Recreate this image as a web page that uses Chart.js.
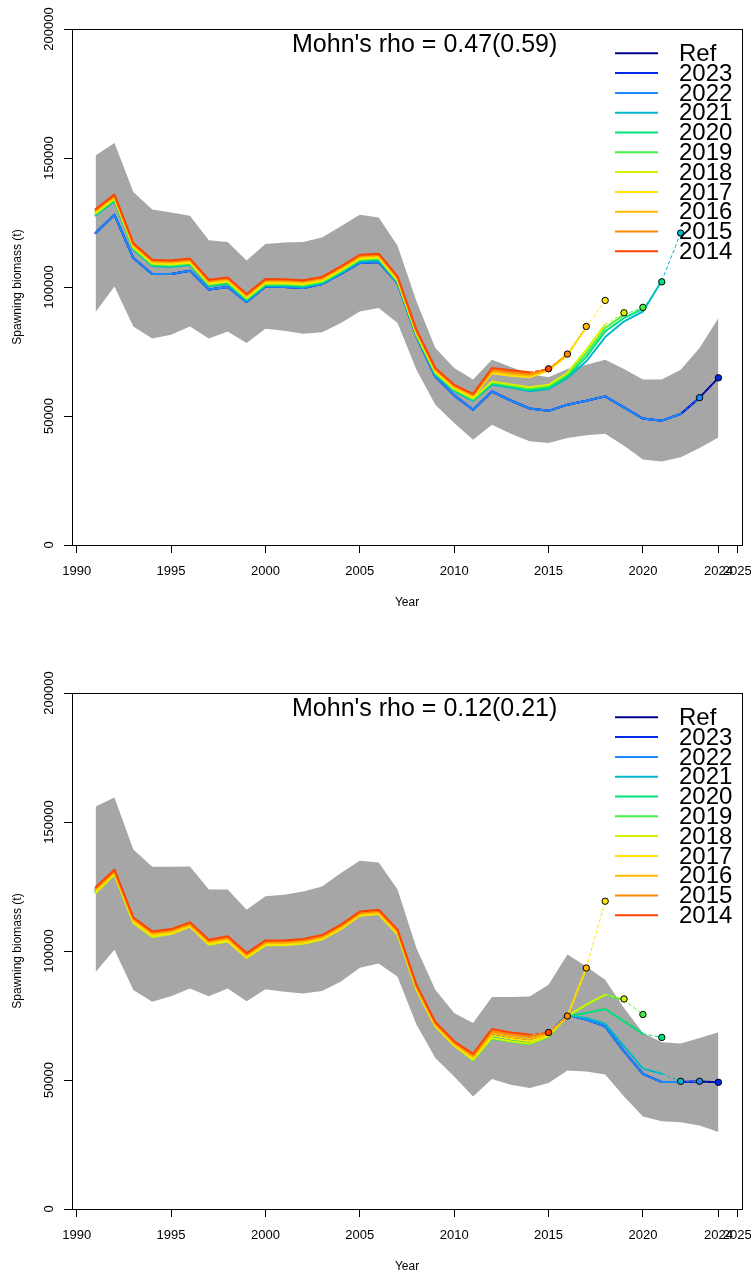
<!DOCTYPE html>
<html lang="en">
<head>
<meta charset="UTF-8">
<title>Retrospective spawning biomass</title>
<style>
    body {
        margin: 0;
        background: #ffffff;
    }
    .panel {
        position: absolute;
        left: 0;
        width: 751px;
    }
    #panelTop { top: 0; height: 664px; }
    #panelBottom { top: 664px; height: 611px; }
</style>
</head>
<body>
<div class="panel" id="panelTop"><canvas id="chartTop" width="751" height="664"></canvas></div>
<div class="panel" id="panelBottom"><canvas id="chartBottom" width="751" height="611"></canvas></div>
<script src="https://cdn.jsdelivr.net/npm/chart.js"></script>
<script>
// ---- data ----
const years = [1991, 1992, 1993, 1994, 1995, 1996, 1997, 1998, 1999, 2000, 2001, 2002,
    2003, 2004, 2005, 2006, 2007, 2008, 2009, 2010, 2011, 2012, 2013, 2014,
    2015, 2016, 2017, 2018, 2019, 2020, 2021, 2022, 2023, 2024];
const xTicks = [1990, 1995, 2000, 2005, 2010, 2015, 2020, 2024, 2025];
const yTicks = [0, 50000, 100000, 150000, 200000];
const legendLabels = ["Ref", "2023", "2022", "2021", "2020", "2019", "2018", "2017", "2016", "2015", "2014"];
const peelYears = [2023, 2022, 2021, 2020, 2019, 2018, 2017, 2016, 2015, 2014];
const lineColors = ["#00008B", "#0028E6", "#1E88FF", "#00B8C8", "#00E07A", "#44F044", "#D8F000", "#FFE400", "#FFBA00", "#FF8A00", "#FF4400"];

// top panel
const topUpper = [151000, 155800, 136800, 130000, 128900, 127600, 118100, 117400, 110300, 116700, 117200, 117400,
    119200, 123500, 128000, 126900, 116000, 94500, 76400, 68600, 64100, 71800, 69000, 66300,
    65000, 68200, 69900, 71800, 68200, 64100, 64100, 67900, 76400, 88000];
const topLower = [90300, 100200, 84700, 80000, 81500, 84700, 80000, 82800, 78300, 83800, 83000, 81900,
    82500, 86000, 90500, 91900, 86000, 67900, 54400, 47300, 40800, 46600, 43100, 40200,
    39500, 41500, 42500, 43100, 38500, 33100, 32400, 34000, 37600, 41700];
const topRef = [120900, 128000, 111200, 105000, 105000, 106300, 99000, 100000, 94200, 100200, 100000, 99600,
    101200, 105100, 109300, 109700, 101500, 80900, 65300, 58000, 52400, 59500, 56000, 52900,
    52000, 54400, 55900, 57600, 53300, 49000, 48200, 50800, 57100, 64800];
const top2023 = [120900, 128000, 111200, 105000, 105000, 106300, 99000, 100000, 94200, 100200, 100000, 99600,
    101200, 105100, 109300, 109700, 101500, 80900, 65300, 58000, 52400, 59500, 56000, 52900,
    52000, 54400, 55900, 57600, 53300, 49000, 48200, 50800, 57100];
const top2022 = [120900, 128000, 111200, 105000, 105000, 106300, 99000, 100000, 94200, 100200, 100000, 99600,
    101200, 105100, 109300, 109700, 101500, 80900, 65300, 58000, 52400, 59500, 56000, 52900,
    52000, 54400, 55900, 57600, 53300, 49000, 48200, 50800];
const top2021 = [127700, 133300, 114500, 108100, 107800, 108500, 100300, 101200, 94800, 100600, 100500, 100100,
    101400, 105500, 110000, 110400, 101600, 80900, 66100, 59600, 55900, 62100, 61000, 59600,
    60500, 64700, 71200, 80600, 86700, 90500, 102400];
const top2020 = [128000, 133600, 114800, 108400, 108100, 108800, 100600, 101500, 95100, 100900, 100800, 100400,
    101700, 105800, 110300, 110700, 101900, 81200, 66400, 59900, 56200, 62600, 61400, 60200,
    61000, 65400, 72900, 82800, 88000, 91500];
const top2019 = [128300, 133900, 115100, 108700, 108400, 109100, 100900, 101800, 95400, 101200, 101100, 100700,
    102000, 106100, 110600, 111000, 102200, 81500, 66700, 60200, 56500, 63000, 61800, 60700,
    61600, 66100, 74400, 84100, 89300];
const top2018 = [128600, 134200, 115400, 109000, 108700, 109400, 101200, 102100, 95700, 101500, 101400, 101000,
    102300, 106400, 110900, 111300, 102500, 81800, 67000, 60500, 56800, 63400, 62200, 61100,
    62100, 66700, 75700, 85400];
const top2017 = [129000, 134600, 115800, 109400, 109100, 109800, 101600, 102500, 96100, 101900, 101800, 101400,
    102700, 106800, 111300, 111700, 102900, 82200, 67400, 60900, 57400, 66600, 65600, 65000,
    67600, 73600, 84500];
const top2016 = [129400, 135000, 116200, 109800, 109500, 110200, 102000, 102900, 96500, 102300, 102200, 101800,
    103100, 107200, 111700, 112100, 103300, 82600, 67800, 61300, 57800, 67200, 66300, 65600,
    68000, 74000];
const top2015 = [129800, 135400, 116600, 110200, 109900, 110600, 102400, 103300, 96900, 102700, 102600, 102200,
    103500, 107600, 112100, 112500, 103700, 83000, 68200, 61700, 58200, 67800, 67000, 66300,
    68300];
const top2014 = [130200, 135800, 117000, 110600, 110300, 111000, 102800, 103700, 97300, 103100, 103000, 102600,
    103900, 108000, 112500, 112900, 104100, 83400, 68600, 62100, 58600, 68600, 67700, 67000];
// one-year-ahead points of each peel (2023 ... 2014)
const topAhead = [64800, 57100, 120900, 102000, 92100, 90000, 94800, 84700, 74000, 68300];

// bottom panel
const botUpper = [156000, 159500, 139300, 132700, 132700, 132800, 123800, 123800, 116000, 121200, 121800, 123100,
    125000, 130200, 135000, 134300, 123800, 101200, 85000, 76000, 72100, 82200, 82200, 82400,
    86900, 98600, 94000, 88900, 77900, 68200, 64600, 64100, 66300, 68500];
const botLower = [91900, 100500, 84900, 80300, 82500, 85500, 82500, 85500, 80500, 85200, 84200, 83500,
    84500, 88200, 93500, 95200, 90000, 71500, 58500, 51400, 43600, 50400, 48200, 46900,
    48800, 53700, 53300, 52100, 43600, 35900, 34000, 33600, 32400, 29800];
const botRef = [123600, 130500, 112000, 106500, 107600, 110300, 103400, 104700, 98200, 103100, 103100, 103700,
    105300, 109300, 114500, 115100, 107300, 86000, 71700, 64100, 58800, 67500, 66000, 65000,
    67500, 75300, 73400, 70800, 61100, 52400, 49200, 49200, 49400, 49100];
const bot2023 = [123600, 130500, 112000, 106500, 107600, 110300, 103400, 104700, 98200, 103100, 103100, 103700,
    105300, 109300, 114500, 115100, 107300, 86000, 71700, 64100, 58800, 67500, 66000, 65000,
    67500, 75300, 73400, 70800, 61100, 52400, 49200, 49200, 49400];
const bot2022 = [123500, 130300, 111800, 106300, 107400, 110300, 103200, 104500, 98000, 103000, 103000, 103600,
    105200, 109200, 114400, 115000, 107100, 85800, 71600, 64000, 58500, 67100, 65700, 64700,
    67300, 75300, 73400, 70800, 61100, 52400, 49200, 49200];
const bot2021 = [123100, 130000, 111500, 106000, 107200, 110100, 103000, 104300, 97900, 102800, 102800, 103400,
    105000, 109100, 114300, 114900, 106900, 85600, 71400, 63900, 58200, 66700, 65400, 64400,
    67000, 75000, 74000, 71800, 63000, 54400, 52400];
const bot2020 = [122900, 129800, 111300, 105800, 107000, 109900, 102800, 104100, 97700, 102600, 102600, 103200,
    104800, 108900, 114100, 114700, 106700, 85400, 71200, 63700, 57800, 66000, 64900, 64000,
    66600, 74800, 76000, 77500, 72700, 67900];
const bot2019 = [122700, 129700, 111100, 105600, 106800, 109700, 102600, 103900, 97500, 102400, 102400, 103000,
    104600, 108700, 113900, 114500, 106500, 85200, 71000, 63500, 57600, 66100, 64800, 63900,
    66700, 74800, 79000, 83000, 81000];
const bot2018 = [122500, 129600, 110900, 105400, 106600, 109500, 102400, 103700, 97300, 102200, 102200, 102800,
    104400, 108500, 113700, 114300, 106300, 85000, 70800, 63300, 57800, 66300, 65000, 64100,
    66900, 74800, 79200, 83100];
const bot2017 = [123200, 130000, 111500, 106100, 107000, 109600, 102900, 104200, 97700, 102600, 102600, 103200,
    104700, 108700, 113800, 114500, 106800, 85400, 71000, 63500, 58300, 67300, 66000, 65000,
    67200, 74800, 93400];
const bot2016 = [123700, 130500, 112000, 106600, 107500, 110100, 103400, 104700, 98200, 103100, 103100, 103700,
    105200, 109200, 114300, 115000, 107300, 85900, 71500, 64000, 58900, 68100, 66800, 65900,
    67700, 74800];
const bot2015 = [124200, 131000, 112500, 107100, 108000, 110600, 103900, 105200, 98700, 103600, 103600, 104200,
    105700, 109700, 114800, 115500, 107800, 86400, 72000, 64500, 59500, 68900, 67600, 66800,
    68400];
const bot2014 = [124700, 131500, 113000, 107600, 108500, 111100, 104400, 105700, 99200, 104100, 104100, 104700,
    106200, 110200, 115300, 116000, 108300, 86900, 72500, 65000, 60100, 69800, 68400, 67600];
const botAhead = [49100, 49500, 49500, 66500, 75400, 81400, 119300, 93400, 74800, 68400];

const BAND = "#A6A6A6";
const FONT = '"Liberation Sans", Arial, Helvetica, sans-serif';

function xy(vals) {
    return vals.map((v, i) => ({ x: years[i], y: v }));
}

function buildDatasets(upper, lower, ref, peels, ahead) {
    const ds = [];
    ds.push({ data: xy(upper), fill: '+1', backgroundColor: BAND, borderWidth: 0, pointRadius: 0, order: 100 });
    ds.push({ data: xy(lower), fill: false, borderWidth: 0, pointRadius: 0, order: 101 });
    ds.push({ data: xy(ref), borderColor: lineColors[0], borderWidth: 2, pointRadius: 0, order: 50 });
    peels.forEach((vals, i) => {
        const col = lineColors[i + 1];
        const last = vals.length - 1;
        ds.push({ data: xy(vals), borderColor: col, borderWidth: 2, pointRadius: 0, order: 49 - i });
        ds.push({
            data: [{ x: years[last], y: vals[last] }, { x: peelYears[i] + 1, y: ahead[i] }],
            borderColor: col, borderWidth: 1, borderDash: [3, 3],
            pointRadius: [0, 3.2], pointBackgroundColor: col, pointBorderColor: "#000000",
            pointBorderWidth: 1, order: 20 - i
        });
    });
    ds.forEach(d => {
        d.borderJoinStyle = 'round';
        d.borderCapStyle = 'round';
        d.tension = 0;
    });
    return ds;
}

const decorations = {
    id: 'decorations',
    afterDraw(chart, args, opts) {
        const { ctx, chartArea: a, scales: { x, y } } = chart;
        ctx.save();
        ctx.strokeStyle = "#000000";
        ctx.lineWidth = 1;
        ctx.strokeRect(a.left + 0.5, a.top + 0.5, a.right - a.left, a.bottom - a.top);

        ctx.fillStyle = "#000000";
        ctx.font = "13px " + FONT;
        ctx.textAlign = "center";
        ctx.textBaseline = "alphabetic";
        yTicks.forEach(v => {
            ctx.save();
            ctx.translate(a.left - 19, y.getPixelForValue(v));
            ctx.rotate(-Math.PI / 2);
            ctx.fillText(String(v), 0, 0);
            ctx.restore();
        });
        xTicks.forEach(v => {
            ctx.fillText(String(v), x.getPixelForValue(v), a.bottom + 30);
        });

        ctx.font = "12px " + FONT;
        ctx.fillText("Year", (a.left + a.right) / 2, a.bottom + 61);
        ctx.save();
        ctx.translate(21, (a.top + a.bottom) / 2);
        ctx.rotate(-Math.PI / 2);
        ctx.fillText("Spawning biomass (t)", 0, 0);
        ctx.restore();

        ctx.font = "25px " + FONT;
        ctx.textAlign = "left";
        ctx.fillText(opts.title, 292, a.top + 23);

        // legend
        ctx.font = "24px " + FONT;
        ctx.textBaseline = "middle";
        legendLabels.forEach((lab, i) => {
            const ly = a.top + 24.3 + i * 19.8;
            ctx.strokeStyle = lineColors[i];
            ctx.lineWidth = 2;
            ctx.beginPath();
            ctx.moveTo(615, ly);
            ctx.lineTo(658, ly);
            ctx.stroke();
            ctx.fillText(lab, 679, ly + 1);
        });
        ctx.restore();
    }
};

function makeChart(id, height, datasets, title) {
    return new Chart(document.getElementById(id), {
        type: 'line',
        data: { datasets: datasets },
        options: {
            responsive: false,
            animation: false,
            devicePixelRatio: 1,
            layout: { autoPadding: false, padding: { left: 72, right: 9, top: 29, bottom: height - 545 } },
            scales: {
                x: {
                    type: 'linear', min: 1989.75, max: 2025.25,
                    afterBuildTicks: s => { s.ticks = xTicks.map(v => ({ value: v })); },
                    afterFit: s => { s.height = 0; },
                    ticks: { display: false },
                    border: { display: false },
                    grid: { drawOnChartArea: false, drawTicks: true, tickLength: 8, color: "#000000", lineWidth: 1 }
                },
                y: {
                    type: 'linear', min: 0, max: 200000,
                    afterBuildTicks: s => { s.ticks = yTicks.map(v => ({ value: v })); },
                    afterFit: s => { s.width = 0; },
                    ticks: { display: false },
                    border: { display: false },
                    grid: { drawOnChartArea: false, drawTicks: true, tickLength: 8, color: "#000000", lineWidth: 1 }
                }
            },
            plugins: {
                legend: { display: false },
                tooltip: { enabled: false },
                decorations: { title: title }
            }
        },
        plugins: [decorations]
    });
}

makeChart('chartTop', 664,
    buildDatasets(topUpper, topLower, topRef,
        [top2023, top2022, top2021, top2020, top2019, top2018, top2017, top2016, top2015, top2014], topAhead),
    "Mohn's rho = 0.47(0.59)");
makeChart('chartBottom', 611,
    buildDatasets(botUpper, botLower, botRef,
        [bot2023, bot2022, bot2021, bot2020, bot2019, bot2018, bot2017, bot2016, bot2015, bot2014], botAhead),
    "Mohn's rho = 0.12(0.21)");
</script>
</body>
</html>
